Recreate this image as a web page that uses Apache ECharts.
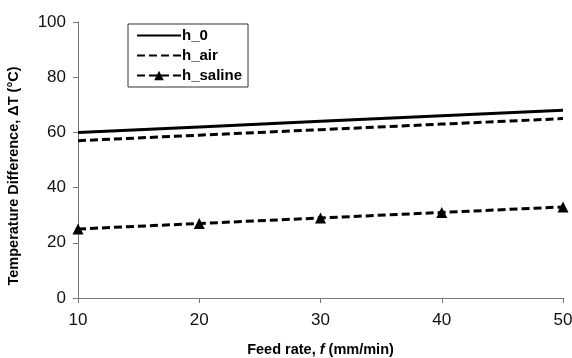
<!DOCTYPE html>
<html>
<head>
<meta charset="utf-8">
<script src="https://cdn.jsdelivr.net/npm/echarts@6/dist/echarts.min.js"></script>
<style>
html, body { margin: 0; padding: 0; background: #fff; }
#chart { width: 572px; height: 358px; }
</style>
</head>
<body>
<div id="chart"></div>
<script>
// feed rate (mm/min)
const feedRate = [10, 20, 30, 40, 50];
// temperature difference (°C)
const h0 = [60, 62, 64, 66, 68];
const hAir = [57, 59, 61, 63, 65];
const hSaline = [25, 27, 29, 31, 33];
const seriesNames = ['h_0', 'h_air', 'h_saline'];

function pairs(vals) {
    return feedRate.map((x, i) => [x, vals[i]]);
}

let myChart = echarts.init(document.getElementById('chart'));
let font = 'Arial, "Liberation Sans", sans-serif';
let option = {
    animation: false,
    grid: { left: 78, right: 9, top: 22, bottom: 60, containLabel: false, outerBoundsMode: 'none' },
    legend: {
        orient: 'vertical',
        left: 128,
        top: 24,
        itemWidth: 44,
        itemHeight: 12,
        itemGap: 5,
        padding: [4, 6, 4, 8],
        borderColor: '#333',
        borderWidth: 1,
        data: [
            { name: seriesNames[0], itemStyle: { opacity: 0 } },
            { name: seriesNames[1], itemStyle: { opacity: 0 } },
            { name: seriesNames[2] }
        ],
        textStyle: { fontFamily: font, fontSize: 15, fontWeight: 'bold', color: '#000', padding: [0, 0, 0, -4] }
    },
    xAxis: {
        type: 'value',
        min: 10,
        max: 50,
        interval: 10,
        splitLine: { show: false },
        axisLine: { lineStyle: { color: '#777', width: 1 } },
        axisTick: { show: true, length: 5, lineStyle: { color: '#777' } },
        axisLabel: { fontFamily: font, fontSize: 17, color: '#111', margin: 14 },
        name: '{b|Feed rate, }{i|f}{b| (mm/min)}',
        nameLocation: 'middle',
        nameGap: 44,
        nameTextStyle: {
            rich: {
                b: { fontFamily: font, fontSize: 14.5, fontWeight: 'bold', color: '#000' },
                i: { fontFamily: font, fontSize: 14.5, fontWeight: 'bold', fontStyle: 'italic', color: '#000' }
            }
        }
    },
    yAxis: {
        type: 'value',
        min: 0,
        max: 100,
        interval: 20,
        splitLine: { show: false },
        axisLine: { show: true, lineStyle: { color: '#777', width: 1 } },
        axisTick: { show: true, length: 5, lineStyle: { color: '#777' } },
        axisLabel: { fontFamily: font, fontSize: 17, color: '#111', margin: 12 },
        name: 'Temperature Difference, ΔT (°C)',
        nameLocation: 'middle',
        nameGap: 57,
        nameTextStyle: { fontFamily: font, fontSize: 14.5, fontWeight: 'bold', color: '#000', padding: [0, 32, 0, 0] }
    },
    series: [
        {
            name: seriesNames[0],
            type: 'line',
            data: pairs(h0),
            symbol: 'none',
            lineStyle: { color: '#000', width: 3 },
            itemStyle: { color: '#000' }
        },
        {
            name: seriesNames[1],
            type: 'line',
            data: pairs(hAir),
            symbol: 'none',
            lineStyle: { color: '#000', width: 3, type: [8, 4] },
            itemStyle: { color: '#000' }
        },
        {
            name: seriesNames[2],
            type: 'line',
            data: pairs(hSaline),
            symbol: 'triangle',
            symbolSize: 11,
            lineStyle: { color: '#000', width: 3, type: [8, 4] },
            itemStyle: { color: '#000' }
        }
    ]
};
myChart.setOption(option);
</script>
</body>
</html>
